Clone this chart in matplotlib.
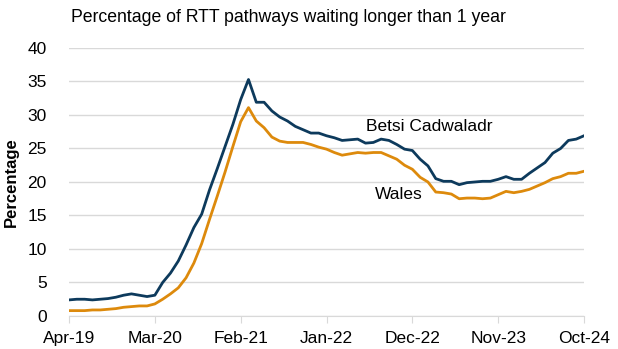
import matplotlib
matplotlib.use("Agg")
import matplotlib.pyplot as plt

plt.rcParams['font.family'] = ['Liberation Sans', 'DejaVu Sans']

# month labels shown on the axis (every 11 months, Apr-19 .. Oct-24)
tick_labels = ['Apr-19', 'Mar-20', 'Feb-21', 'Jan-22', 'Dec-22', 'Nov-23', 'Oct-24']

# percentage of RTT pathways waiting > 1 year, monthly Apr-19 .. Oct-24
betsi = [2.4, 2.5, 2.5, 2.4, 2.5, 2.6, 2.8, 3.1, 3.3, 3.1, 2.9, 3.1,
         5.0, 6.4, 8.2, 10.6, 13.2, 15.2, 18.8, 22.0, 25.3, 28.6, 32.3, 35.3,
         31.9, 31.9, 30.6, 29.7, 29.1, 28.3, 27.8, 27.3, 27.3, 26.9, 26.6, 26.2,
         26.3, 26.4, 25.8, 25.9, 26.4, 26.2, 25.6, 24.9, 24.7, 23.4, 22.4, 20.5,
         20.1, 20.1, 19.6, 19.9, 20.0, 20.1, 20.1, 20.4, 20.8, 20.4, 20.4, 21.3,
         22.1, 22.9, 24.3, 25.0, 26.2, 26.4, 26.9]
wales = [0.8, 0.8, 0.8, 0.9, 0.9, 1.0, 1.1, 1.3, 1.4, 1.5, 1.5, 1.8,
         2.5, 3.3, 4.2, 5.7, 7.9, 10.8, 14.4, 17.9, 21.5, 25.3, 29.0, 31.1,
         29.1, 28.1, 26.7, 26.1, 25.9, 25.9, 25.9, 25.6, 25.2, 24.9, 24.4, 24.0,
         24.2, 24.4, 24.3, 24.4, 24.4, 23.9, 23.4, 22.5, 21.9, 20.7, 20.0, 18.5,
         18.4, 18.2, 17.5, 17.6, 17.6, 17.5, 17.6, 18.1, 18.6, 18.4, 18.6, 18.9,
         19.4, 19.9, 20.5, 20.8, 21.3, 21.3, 21.6]

blue = '#0D3A5C'
orange = '#DD8A0C'

months = list(range(len(betsi)))

fig = plt.figure(figsize=(6.18, 3.49), dpi=100)
ax = fig.add_axes([0.1117, 0.0946, 0.8333, 0.7679])

ax.plot(months, betsi, color=blue, lw=2)
ax.plot(months, wales, color=orange, lw=2)

ax.set_xlim(0, 66)
ax.set_ylim(0, 40)
ax.set_xticks(range(0, 67, 11))
ax.set_xticklabels(tick_labels)
ax.set_yticks(range(0, 41, 5))
ax.yaxis.grid(True, color='#D9D9D9', lw=1)
ax.set_axisbelow(True)
for s in ['left', 'right', 'top']:
    ax.spines[s].set_visible(False)
ax.spines['bottom'].set_color('#D9D9D9')
ax.tick_params(axis='x', length=5, color='#D9D9D9', labelsize=12.5, pad=6)
ax.tick_params(axis='y', length=0, labelsize=12.5, pad=16)

ax.set_ylabel('Percentage', fontsize=12, fontweight='bold', labelpad=6)

ax.text(38.1, 28.3, 'Betsi Cadwaladr', fontsize=12.5, va='center')
ax.text(39.2, 18.1, 'Wales', fontsize=12.5, va='center')

fig.text(0.115, 0.95, 'Percentage of RTT pathways waiting longer than 1 year',
         fontsize=12.7, va='center')

fig.savefig('out.png', dpi=100)
